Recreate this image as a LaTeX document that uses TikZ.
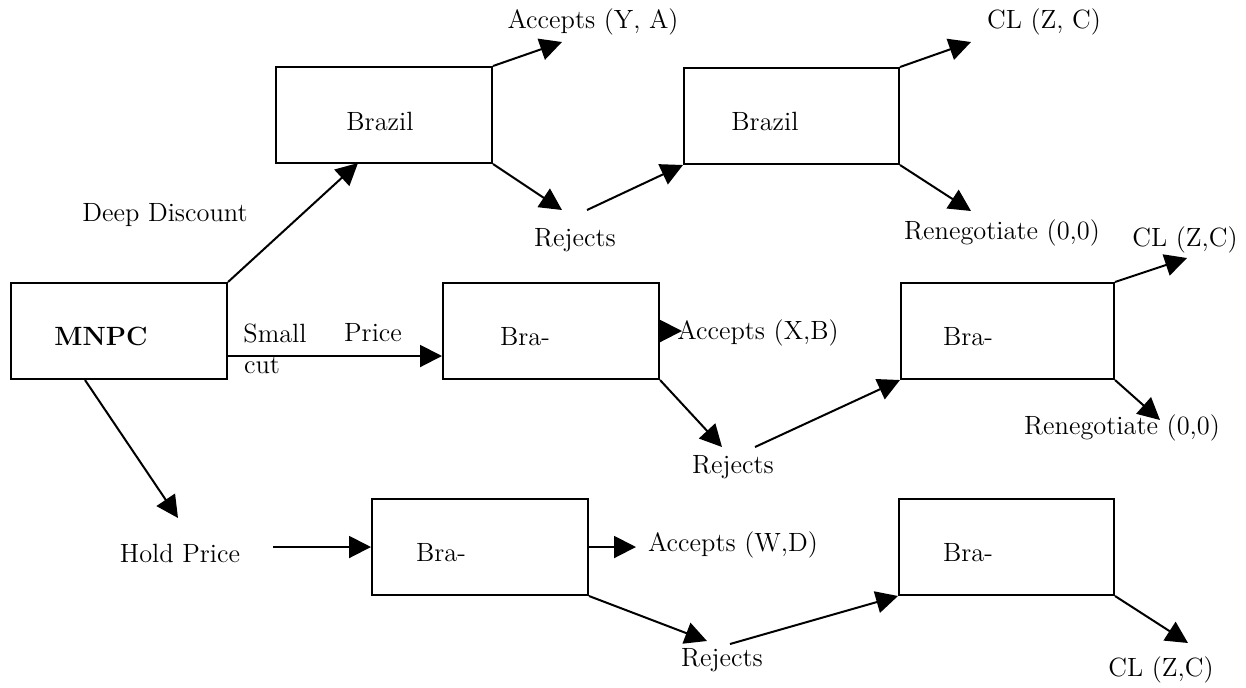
\documentclass[tikz,border=0pt]{standalone}
\usetikzlibrary{positioning}
\usetikzlibrary{arrows.meta}

\begin{document}
\begin{tikzpicture}
[x=0.5pt, y=-0.5pt, line width=1pt, >={Triangle[length=11pt,width=11pt]},
 font=\fontsize{13.2}{16}\selectfont,
 box/.style={draw, anchor=north west, minimum width=108pt, minimum height=48pt, inner sep=0pt},
 lbl/.style={inner sep=0pt}]

\useasboundingbox (0,0) rectangle (1246,687);

% Boxes:
\node[box] (mnpc) at (10,282) {};
\node[box] (br1) at (275,66) {};
\node[box, minimum width=107.5pt] (br2) at (683,67) {};
\node[box] (bm1) at (442,282) {};
\node[box, minimum width=106.5pt] (bm2) at (900,282) {};
\node[box] (bb1) at (371,498) {};
\node[box, minimum width=107.5pt] (bb2) at (898,498) {};

% Text inside the boxes:
\node[lbl, font=\fontsize{13.2}{16}\selectfont\bfseries] (tmnpc) at (101,336) {MNPC};
\node[lbl] (tbr1) at (380,121) {Brazil};
\node[lbl] (tbr2) at (765,121) {Brazil};
\node[lbl] (tbm1) at (525,337) {Bra-};
\node[lbl] (tbm2) at (968,337) {Bra-};
\node[lbl] (tbb1) at (441,553) {Bra-};
\node[lbl] (tbb2) at (968,553) {Bra-};

% Outcome labels:
\node[lbl] (acc1) at (593,22) {Accepts (Y, A)};
\node[lbl] (cl1) at (1044,22) {CL (Z, C)};
\node[lbl] (deep) at (165,215) {Deep Discount};
\node[lbl] (rej1) at (575,240) {Rejects};
\node[lbl] (ren1) at (1002,233) {Renegotiate (0,0)};
\node[lbl] (cl2) at (1185,240) {CL (Z,C)};
\node[lbl] (small) at (275,333) {Small};
\node[lbl] (price) at (373,333) {Price};
\node[lbl] (cut) at (262,366) {cut};
\node[lbl] (acc2) at (758,333) {Accepts (X,B)};
\node[lbl] (rej2) at (733,467) {Rejects};
\node[lbl] (ren2) at (1122,428) {Renegotiate (0,0)};
\node[lbl] (hold) at (180,553) {Hold Price};
\node[lbl] (acc3) at (733,545) {Accepts (W,D)};
\node[lbl] (rej3) at (722,660) {Rejects};
\node[lbl] (cl3) at (1161,670) {CL (Z,C)};

% Free ends of the arrows:
\coordinate (tdeep) at (358,163);
\coordinate (thold) at (178,518);
\coordinate (shold) at (273,547);
\coordinate (tacc1) at (562,42);
\coordinate (trej1) at (562,210);
\coordinate (srej1) at (587,210);
\coordinate (tcl1) at (971,42);
\coordinate (tren1) at (971,211);
\coordinate (tacc2) at (682,331);
\coordinate (trej2) at (722,447);
\coordinate (srej2) at (755,447);
\coordinate (tcl2) at (1187,258);
\coordinate (tren2) at (1160,420);
\coordinate (tacc3) at (636,547);
\coordinate (trej3) at (707,641);
\coordinate (srej3) at (730,644);
\coordinate (tcl3) at (1188,643);

% MNPC moves:
\draw[->] (mnpc.north east) -- (tdeep);
\draw[->] ([yshift=-12.5pt]mnpc.east) -- ([yshift=-12.5pt]bm1.west);
\draw[->] ([xshift=37.5pt]mnpc.south west) -- (thold);
\draw[->] (shold) -- (bb1.west);

% Upper branch:
\draw[->] (br1.north east) -- (tacc1);
\draw[->] (br1.south east) -- (trej1);
\draw[->] (srej1) -- (br2.south west);
\draw[->] (br2.north east) -- (tcl1);
\draw[->] (br2.south east) -- (tren1);

% Middle branch:
\draw[->] (bm1.east) -- (tacc2);
\draw[->] (bm1.south east) -- (trej2);
\draw[->] (srej2) -- (bm2.south west);
\draw[->] (bm2.north east) -- (tcl2);
\draw[->] (bm2.south east) -- (tren2);

% Lower branch:
\draw[->] (bb1.east) -- (tacc3);
\draw[->] (bb1.south east) -- (trej3);
\draw[->] (srej3) -- (bb2.south west);
\draw[->] (bb2.south east) -- (tcl3);

\end{tikzpicture}
\end{document}
